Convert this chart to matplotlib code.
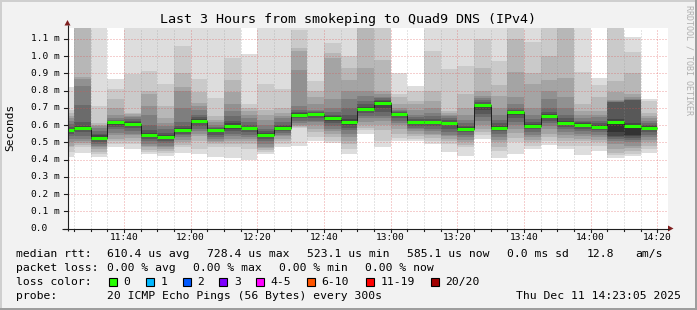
import numpy as np
import matplotlib
matplotlib.use("Agg")
import matplotlib.pyplot as plt
from matplotlib.patches import Rectangle, Polygon
from matplotlib.transforms import blended_transform_factory

# time axis, in minutes after 11:00
win_start = 23 + 5 / 60.0      # 11:23:05
win_end = 203 + 5 / 60.0       # 14:23:05
slot_start = list(range(20, 200, 5))   # 5 minute steps, 11:20 .. 14:15

x_tick_pos = [40, 60, 80, 100, 120, 140, 160, 180, 200]
x_tick_labels = ["11:40", "12:00", "12:20", "12:40", "13:00", "13:20", "13:40", "14:00", "14:20"]
y_tick_pos = [0.0, 0.1, 0.2, 0.3, 0.4, 0.5, 0.6, 0.7, 0.8, 0.9, 1.0, 1.1]
y_tick_labels = ["0.0", "0.1 m", "0.2 m", "0.3 m", "0.4 m", "0.5 m", "0.6 m",
                 "0.7 m", "0.8 m", "0.9 m", "1.0 m", "1.1 m"]

# median rtt per slot (ms)
median_ms = [0.571, 0.585, 0.523, 0.618, 0.608, 0.544, 0.533, 0.571, 0.625, 0.571,
             0.595, 0.585, 0.544, 0.585, 0.660, 0.666, 0.643, 0.618, 0.695, 0.728,
             0.666, 0.618, 0.618, 0.614, 0.579, 0.718, 0.585, 0.678, 0.595, 0.654,
             0.614, 0.602, 0.590, 0.619, 0.596, 0.585]

# the 20 pings of each slot, sorted (ms)
ping_rtts_ms = [
    [0.417, 0.445, 0.47, 0.48, 0.50, 0.52, 0.535, 0.55, 0.56, 0.568, 0.573, 0.58, 0.59, 0.605, 0.625, 0.64, 0.655, 0.67, 0.69, 0.82],
    [0.44, 0.47, 0.485, 0.495, 0.508, 0.52, 0.537, 0.56, 0.575, 0.583, 0.587, 0.595, 0.62, 0.716, 0.826, 0.865, 0.88, 1.20, 1.25, 1.30],
    [0.415, 0.43, 0.445, 0.46, 0.47, 0.48, 0.49, 0.50, 0.512, 0.52, 0.53, 0.54, 0.55, 0.566, 0.585, 0.595, 0.60, 0.614, 0.71, 1.30],
    [0.47, 0.49, 0.505, 0.52, 0.54, 0.556, 0.575, 0.59, 0.60, 0.615, 0.619, 0.62, 0.624, 0.628, 0.64, 0.66, 0.70, 0.75, 0.81, 0.865],
    [0.46, 0.49, 0.51, 0.525, 0.54, 0.55, 0.565, 0.585, 0.595, 0.605, 0.61, 0.615, 0.625, 0.635, 0.645, 0.655, 0.665, 0.672, 0.895, 1.30],
    [0.43, 0.445, 0.455, 0.47, 0.48, 0.49, 0.505, 0.52, 0.53, 0.54, 0.548, 0.556, 0.57, 0.60, 0.66, 0.71, 0.78, 0.797, 0.914, 1.30],
    [0.42, 0.44, 0.45, 0.46, 0.47, 0.48, 0.495, 0.51, 0.52, 0.53, 0.537, 0.545, 0.556, 0.575, 0.595, 0.61, 0.64, 0.71, 0.836, 1.30],
    [0.44, 0.47, 0.485, 0.50, 0.515, 0.53, 0.54, 0.55, 0.56, 0.568, 0.575, 0.585, 0.595, 0.62, 0.70, 0.80, 0.82, 0.90, 1.06, 1.30],
    [0.43, 0.46, 0.51, 0.535, 0.55, 0.565, 0.58, 0.595, 0.61, 0.622, 0.628, 0.635, 0.645, 0.66, 0.69, 0.71, 0.73, 0.79, 0.865, 1.30],
    [0.415, 0.47, 0.49, 0.50, 0.51, 0.52, 0.53, 0.545, 0.56, 0.568, 0.575, 0.58, 0.585, 0.59, 0.60, 0.615, 0.63, 0.653, 0.759, 1.30],
    [0.41, 0.475, 0.49, 0.505, 0.52, 0.535, 0.55, 0.565, 0.58, 0.59, 0.60, 0.61, 0.625, 0.65, 0.68, 0.72, 0.79, 0.86, 0.99, 1.30],
    [0.40, 0.46, 0.49, 0.51, 0.52, 0.53, 0.545, 0.56, 0.575, 0.583, 0.587, 0.59, 0.60, 0.615, 0.64, 0.66, 0.68, 0.70, 0.72, 1.01],
    [0.43, 0.445, 0.455, 0.465, 0.475, 0.49, 0.505, 0.52, 0.53, 0.54, 0.548, 0.555, 0.565, 0.58, 0.60, 0.63, 0.66, 0.69, 0.836, 1.30],
    [0.47, 0.49, 0.505, 0.52, 0.535, 0.545, 0.555, 0.565, 0.575, 0.583, 0.587, 0.592, 0.60, 0.62, 0.64, 0.655, 0.67, 0.70, 0.81, 1.30],
    [0.478, 0.585, 0.59, 0.595, 0.60, 0.61, 0.625, 0.64, 0.65, 0.657, 0.663, 0.668, 0.675, 0.69, 0.71, 0.92, 1.03, 1.045, 1.15, 1.30],
    [0.51, 0.53, 0.56, 0.58, 0.60, 0.615, 0.625, 0.64, 0.655, 0.664, 0.668, 0.67, 0.675, 0.68, 0.69, 0.72, 0.76, 0.80, 0.855, 1.30],
    [0.495, 0.51, 0.53, 0.55, 0.565, 0.58, 0.595, 0.61, 0.625, 0.64, 0.647, 0.652, 0.66, 0.675, 0.70, 0.75, 0.99, 1.02, 1.075, 1.30],
    [0.43, 0.46, 0.49, 0.51, 0.53, 0.55, 0.57, 0.585, 0.60, 0.614, 0.622, 0.635, 0.66, 0.70, 0.75, 0.80, 0.86, 0.93, 1.00, 1.30],
    [0.55, 0.57, 0.585, 0.60, 0.62, 0.64, 0.655, 0.67, 0.685, 0.692, 0.698, 0.705, 0.72, 0.74, 0.77, 0.80, 0.933, 1.20, 1.25, 1.30],
    [0.47, 0.51, 0.57, 0.60, 0.625, 0.64, 0.652, 0.675, 0.70, 0.725, 0.733, 0.738, 0.745, 0.755, 0.765, 0.78, 0.80, 0.98, 1.25, 1.30],
    [0.51, 0.525, 0.55, 0.58, 0.60, 0.61, 0.625, 0.64, 0.655, 0.663, 0.668, 0.67, 0.675, 0.68, 0.69, 0.70, 0.72, 0.76, 0.78, 0.904],
    [0.51, 0.52, 0.535, 0.55, 0.565, 0.575, 0.585, 0.595, 0.605, 0.615, 0.62, 0.625, 0.635, 0.645, 0.66, 0.69, 0.72, 0.74, 0.80, 0.825],
    [0.49, 0.51, 0.525, 0.54, 0.55, 0.565, 0.58, 0.595, 0.605, 0.615, 0.62, 0.626, 0.635, 0.65, 0.67, 0.70, 0.74, 0.80, 1.03, 1.30],
    [0.445, 0.49, 0.505, 0.52, 0.535, 0.545, 0.56, 0.58, 0.60, 0.612, 0.616, 0.62, 0.63, 0.64, 0.65, 0.66, 0.67, 0.68, 0.925, 1.30],
    [0.42, 0.47, 0.485, 0.50, 0.515, 0.53, 0.545, 0.56, 0.57, 0.577, 0.582, 0.588, 0.595, 0.61, 0.63, 0.66, 0.70, 0.78, 0.94, 1.30],
    [0.52, 0.54, 0.56, 0.58, 0.60, 0.625, 0.645, 0.665, 0.69, 0.715, 0.72, 0.725, 0.735, 0.745, 0.755, 0.77, 0.80, 0.93, 1.10, 1.30],
    [0.41, 0.45, 0.475, 0.50, 0.515, 0.53, 0.55, 0.565, 0.575, 0.583, 0.588, 0.595, 0.61, 0.63, 0.66, 0.70, 0.77, 0.83, 0.97, 1.30],
    [0.43, 0.50, 0.525, 0.555, 0.58, 0.60, 0.62, 0.64, 0.66, 0.676, 0.68, 0.684, 0.69, 0.70, 0.72, 0.76, 0.905, 1.10, 1.25, 1.30],
    [0.46, 0.48, 0.50, 0.515, 0.53, 0.545, 0.56, 0.575, 0.585, 0.592, 0.598, 0.605, 0.62, 0.635, 0.66, 0.70, 0.84, 0.90, 1.08, 1.30],
    [0.485, 0.51, 0.53, 0.55, 0.575, 0.595, 0.61, 0.625, 0.64, 0.65, 0.657, 0.663, 0.675, 0.70, 0.75, 0.80, 0.86, 1.00, 1.25, 1.30],
    [0.46, 0.48, 0.505, 0.525, 0.545, 0.56, 0.575, 0.59, 0.60, 0.61, 0.618, 0.625, 0.64, 0.66, 0.70, 0.76, 0.875, 1.20, 1.25, 1.30],
    [0.425, 0.48, 0.505, 0.52, 0.535, 0.55, 0.565, 0.58, 0.59, 0.60, 0.605, 0.61, 0.615, 0.625, 0.64, 0.66, 0.68, 0.72, 0.91, 1.30],
    [0.45, 0.48, 0.50, 0.515, 0.53, 0.545, 0.56, 0.57, 0.58, 0.587, 0.593, 0.60, 0.61, 0.625, 0.645, 0.66, 0.68, 0.76, 0.83, 0.875],
    [0.41, 0.425, 0.44, 0.46, 0.49, 0.51, 0.52, 0.53, 0.537, 0.56, 0.625, 0.635, 0.735, 0.735, 0.74, 0.745, 0.79, 0.855, 1.25, 1.30],
    [0.42, 0.435, 0.45, 0.465, 0.48, 0.50, 0.515, 0.525, 0.535, 0.54, 0.60, 0.61, 0.745, 0.745, 0.75, 0.76, 0.78, 0.90, 1.025, 1.11],
    [0.44, 0.46, 0.48, 0.50, 0.515, 0.53, 0.54, 0.56, 0.575, 0.582, 0.588, 0.595, 0.60, 0.61, 0.625, 0.64, 0.655, 0.67, 0.74, 0.752],
]

loss_labels = ["0", "1", "2", "3", "4-5", "6-10", "11-19", "20/20"]
loss_colors = ["#26ff00", "#00b8ff", "#0059ff", "#7e00ff", "#ff00ff", "#ff5500", "#ff0000", "#a10000"]

FONT = "DejaVu Sans Mono"
W, H = 697, 310

fig = plt.figure(figsize=(W / 100, H / 100), dpi=100, facecolor="#f2f2f2")
ax = fig.add_axes([67.5 / W, 1 - 228.5 / H, 600 / W, 200.5 / H])
ax.set_facecolor("white")
ax.set_xlim(win_start, win_end)
ax.set_ylim(0, 1.163)
for s in ax.spines.values():
    s.set_visible(False)
ax.set_xticks([])
ax.set_yticks([])

# smoke: band between ping i and ping 21-i, darker towards the middle
pings = np.sort(np.array(ping_rtts_ms), axis=1)
left = np.array(slot_start, dtype=float)
n = pings.shape[1]
half = n // 2
for i in range(1, half + 1):
    g = int(190 / half * (half - i)) + 50
    col = "#%02x%02x%02x" % (g, g, g)
    lo = pings[:, i - 1]
    hi = pings[:, n - i]
    ax.bar(left, hi - lo, bottom=lo, width=5, align="edge", color=col,
           linewidth=0, antialiased=False, zorder=1)

# grid
for v in y_tick_pos[1:]:
    ax.axhline(v, color="#de5050", alpha=0.55, lw=0.72, ls=(0, (1, 2)), zorder=2)
for t in range(25, 205, 5):
    if t in x_tick_pos:
        ax.axvline(t, color="#de5050", alpha=0.55, lw=0.72, ls=(0, (1, 2)), zorder=2)
    else:
        ax.axvline(t, color="#8f8f8f", alpha=0.45, lw=0.72, ls=(0, (1, 2)), zorder=2)

# median line
edges = np.append(left, left[-1] + 5)
ax.stairs(median_ms, edges, color="#202020", lw=0.72, baseline=None, zorder=3)
ax.hlines(median_ms, left, left + 5, color=loss_colors[0], lw=2.2, zorder=4)

# overlay in pixel coordinates for frame, axes, texts
ov = fig.add_axes([0, 0, 1, 1], facecolor="none", zorder=5)
ov.set_xlim(0, W)
ov.set_ylim(H, 0)
ov.axis("off")

ov.add_patch(Rectangle((0, 0), W, 2, color="#cfcfcf", lw=0))
ov.add_patch(Rectangle((0, 0), 2, H, color="#cfcfcf", lw=0))
ov.add_patch(Rectangle((0, H - 2.5), W, 2.5, color="#9e9e9e", lw=0))
ov.add_patch(Rectangle((W - 2, 0), 2, H, color="#9e9e9e", lw=0))

ov.plot([67.5, 67.5], [231, 25], color="#1f1f1f", lw=0.8, solid_capstyle="butt")
ov.plot([62, 669], [228.5, 228.5], color="#1f1f1f", lw=0.8, solid_capstyle="butt")
ov.add_patch(Polygon([[64.5, 25.5], [70.5, 25.5], [67.5, 20]], closed=True, color="#801f1f", lw=0))
ov.add_patch(Polygon([[668, 225.5], [668, 231.5], [673.5, 228.5]], closed=True, color="#801f1f", lw=0))

# ticks
ty = blended_transform_factory(ov.transData, ax.transData)
tx = blended_transform_factory(ax.transData, ov.transData)
for v, lab in zip(y_tick_pos, y_tick_labels):
    ax.plot([63.5, 67.5], [v, v], color="#1f1f1f", lw=0.8, transform=ty, clip_on=False)
    ax.text(30.7, v, lab, transform=ty, ha="left", va="center", family=FONT, fontsize=6.8)
for t in range(25, 205, 5):
    ln = 3 if t in x_tick_pos else 2
    ax.plot([t, t], [228.5, 228.5 + ln], color="#1f1f1f", lw=0.8, transform=tx, clip_on=False)
for t, lab in zip(x_tick_pos, x_tick_labels):
    ax.text(t, 238, lab, transform=tx, ha="center", va="center", family=FONT, fontsize=6.8)

ov.text(348, 19, "Last 3 Hours from smokeping to Quad9 DNS (IPv4)", ha="center", va="center",
        family=FONT, fontsize=9.6)
ov.text(10, 127, "Seconds", rotation=90, ha="center", va="center", family=FONT, fontsize=8)
ov.text(689.5, 60, "RRDTOOL / TOBI OETIKER", rotation=270, ha="center", va="center",
        family=FONT, fontsize=6, color="#b0b0b0")

LF = 8.2
row1 = [(16, "median rtt:"), (107, "610.4 us avg"), (207, "728.4 us max"), (307, "523.1 us min"),
        (407, "585.1 us now"), (507, "0.0 ms sd"), (587, "12.8"), (635, "am/s")]
row2 = [(16, "packet loss:"), (107, "0.00 % avg"), (193, "0.00 % max"), (279, "0.00 % min"),
        (365, "0.00 % now")]
for x, s in row1:
    ov.text(x, 254, s, ha="left", va="center", family=FONT, fontsize=LF)
for x, s in row2:
    ov.text(x, 268.3, s, ha="left", va="center", family=FONT, fontsize=LF)

ov.text(16, 282.3, "loss color:", ha="left", va="center", family=FONT, fontsize=LF)
box_x = [108.7, 145.7, 182.7, 219.3, 256, 307, 365.7, 430.7]
for bx, lab, c in zip(box_x, loss_labels, loss_colors):
    ov.add_patch(Rectangle((bx, 278), 8, 8, facecolor=c, edgecolor="black", lw=0.8))
    ov.text(bx + 14.5, 282.3, lab, ha="left", va="center", family=FONT, fontsize=LF)

ov.text(16, 296, "probe:", ha="left", va="center", family=FONT, fontsize=LF)
ov.text(107, 296, "20 ICMP Echo Pings (56 Bytes) every 300s", ha="left", va="center",
        family=FONT, fontsize=LF)
ov.text(681, 296, "Thu Dec 11 14:23:05 2025", ha="right", va="center", family=FONT, fontsize=LF)

fig.savefig("out.png", dpi=100, facecolor=fig.get_facecolor())
